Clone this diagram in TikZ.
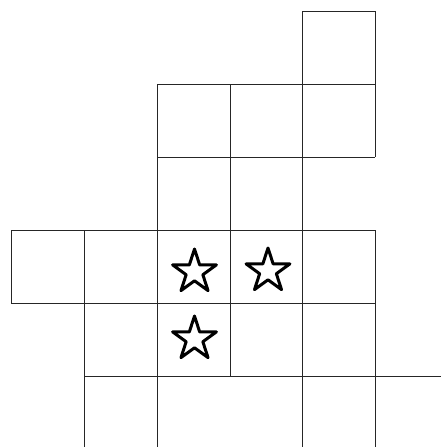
\documentclass[tikz,border=0pt]{standalone}
\usetikzlibrary{shapes.geometric}
\begin{document}
\begin{tikzpicture}[x=1pt,y=-1pt,
  gridline/.style={draw=black!85,line width=1pt},
  starmark/.style={star,star points=5,star point ratio=2.618,minimum size=46pt,inner sep=0pt,draw=black,line width=3pt,line join=round}]
\useasboundingbox[fill=white] (0,0) rectangle (441,447);
% vertical lines
\draw[gridline] (11,230)--(11,303);
\draw[gridline] (84,230)--(84,447);
\draw[gridline] (157,84)--(157,447);
\draw[gridline] (230,84)--(230,376);
\draw[gridline] (302,11)--(302,447);
\draw[gridline] (375,11)--(375,157);
\draw[gridline] (375,230)--(375,447);
% horizontal lines
\draw[gridline] (302,11)--(375,11);
\draw[gridline] (157,84)--(375,84);
\draw[gridline] (157,157)--(375,157);
\draw[gridline] (11,230)--(375,230);
\draw[gridline] (11,303)--(375,303);
\draw[gridline] (84,376)--(441,376);
% stars
\node[starmark] (s1) at (194.5,272) {};
\node[starmark] (s2) at (268,271) {};
\node[starmark] (s3) at (194.5,339) {};
\end{tikzpicture}
\end{document}
